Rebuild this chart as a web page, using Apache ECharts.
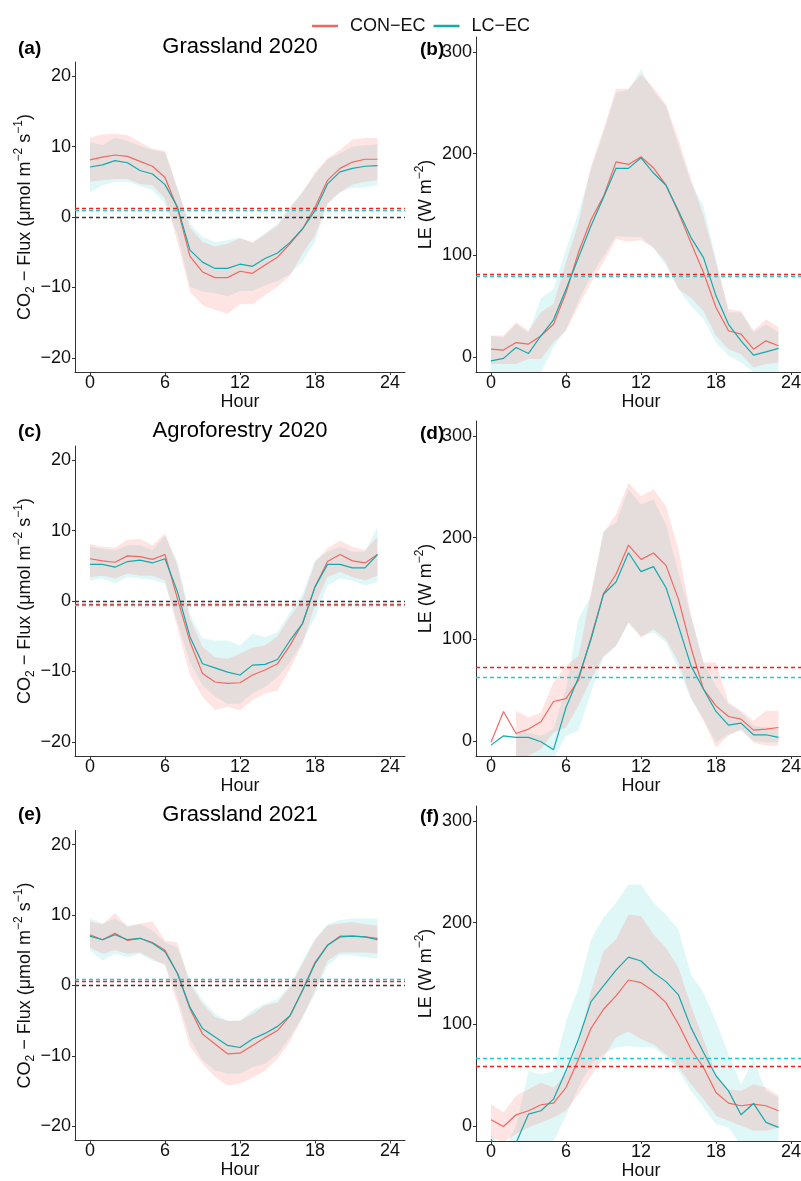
<!DOCTYPE html>
<html><head><meta charset="utf-8">
<script src="https://cdn.jsdelivr.net/npm/echarts@6/dist/echarts.min.js"></script>
<style>html,body{margin:0;padding:0;background:#fff}#c{width:801px;height:1181px}</style>
</head><body><div id="c"></div>
<script>
const hours = [0,1,2,3,4,5,6,7,8,9,10,11,12,13,14,15,16,17,18,19,20,21,22,23];
const xTicks = [0,6,12,18,24];
const co2Ticks = [-20,-10,0,10,20];
const leTicks = [0,100,200,300];
const panelTitles = ['Grassland 2020','','Agroforestry 2020','','Grassland 2021',''];
const panelLetters = ['(a)','(b)','(c)','(d)','(e)','(f)'];
const seriesNames = ['CON\u2212EC','LC\u2212EC'];

// (a) Grassland 2020 CO2
const conA    = [8.1,8.5,8.8,8.6,7.9,7.2,5.6,1.2,-5.6,-7.8,-8.6,-8.6,-7.7,-8.0,-6.8,-5.7,-3.8,-1.7,1.4,5.2,6.9,7.8,8.2,8.2];
const conA_lo = [5.0,5.2,5.4,5.4,4.7,4.5,2.6,-3.5,-10.6,-12.5,-13.2,-13.7,-12.4,-12.4,-11.1,-9.9,-8.3,-5.2,-2.6,1.9,3.5,4.6,5.0,5.2];
const conA_hi = [11.3,11.7,11.8,11.6,10.6,9.7,9.4,4.0,-1.5,-3.5,-4.2,-3.8,-3.0,-3.6,-2.5,-1.2,1.3,3.5,6.3,8.3,9.5,11.0,11.2,11.2];
const lcA     = [7.1,7.4,8.0,7.7,6.6,6.1,4.6,1.4,-4.7,-6.4,-7.3,-7.3,-6.7,-7.0,-5.9,-5.1,-3.6,-1.7,0.9,4.7,6.4,6.9,7.2,7.3];
const lcA_lo  = [3.5,4.5,5.0,5.0,4.4,3.8,1.9,-2.5,-9.9,-10.6,-10.8,-11.3,-10.5,-10.5,-9.7,-9.1,-8.1,-6.4,-3.5,1.9,3.5,4.1,4.2,4.5];
const lcA_hi  = [10.6,10.2,11.3,10.8,10.1,9.5,9.2,4.0,-1.0,-2.8,-3.6,-3.3,-2.9,-3.7,-2.3,-1.0,1.4,3.6,6.0,8.2,9.0,10.0,10.2,10.3];

// (b) Grassland 2020 LE
const conB    = [7.5,6.6,14,12.5,20.7,32,63,103,135,158,192,189.5,197,186,169,142,112,83,48.5,25.6,22.3,7.5,15.7,10.8];
const conB_lo = [-7.2,-7.2,-7.2,-2.3,-2.3,14,25.6,50,73,93,115.7,113.4,115,107.5,93,66.6,58,45,20.7,7.5,2.6,-10.5,-7.2,-5.6];
const conB_hi = [21,21,34,25.6,44,52,93,132,188,224,264,264,278,265,248.5,214,175,139,93,47,45,25.6,37,29];
const lcB     = [-4,-1.6,9.2,3.3,20.7,36.4,66.6,97.7,129,157,185.6,185.6,196,181,169,143.6,117.4,97.7,60,32,15.7,1.6,4.9,8.2];
const lcB_lo  = [-20,-20,-20,-20,-15,9.2,27,55,79.7,99,119,118,118,107.5,89.5,66.6,50,37,14,1,-5.6,-15.4,-18,-18];
const lcB_hi  = [20.7,19,32,24,58,66.6,106,142,184.6,220.7,260,263,283,261.6,247,207.5,171.5,148.5,96,43.6,43.6,24,32,24];

// (c) Agroforestry 2020 CO2
const conC    = [6.0,5.7,5.5,6.4,6.3,5.9,6.6,0.3,-5.8,-10.3,-11.5,-11.7,-11.6,-10.5,-9.8,-8.9,-6.3,-3.2,2.0,5.6,6.6,5.7,5.4,6.6];
const conC_lo = [3.4,3.6,3.2,3.9,3.6,3.6,2.9,-3.9,-10.5,-13.6,-15.5,-15.0,-15.5,-14.1,-13.1,-12.7,-9.6,-6.1,-0.6,3.4,4.1,3.4,2.9,3.6];
const conC_hi = [8.1,7.7,7.6,8.7,8.8,7.9,9.6,5.0,-2.5,-6.5,-8.0,-8.2,-7.5,-6.6,-6.3,-5.0,-2.2,0.3,5.5,7.5,8.6,7.7,7.2,9.1];
const lcC     = [5.2,5.2,4.8,5.6,5.8,5.4,6.0,1.3,-5.1,-8.9,-9.5,-10.1,-10.5,-9.1,-9.0,-8.3,-5.6,-3.2,2.0,5.2,5.2,4.7,4.7,6.6];
const lcC_lo  = [2.9,3.2,2.5,3.4,3.2,3.0,2.5,-3.0,-8.7,-12.0,-13.6,-14.6,-14.6,-13.1,-12.2,-10.8,-8.7,-5.8,-2.3,2.2,3.2,2.9,2.2,2.7];
const lcC_hi  = [7.7,7.4,7.2,7.9,7.9,7.2,9.3,5.5,-2.0,-5.3,-5.6,-5.6,-6.3,-4.6,-5.1,-4.4,-1.6,1.0,5.8,7.0,7.7,7.0,7.0,10.5];

// (d) Agroforestry 2020 LE
const conD    = [-1.6,28.9,7.2,11.5,18.7,38.7,41.6,59.7,101.6,145,164,192.8,178.7,185,172.8,139.3,91.8,50.8,34.4,23.9,21.3,10.5,11.5,13.1];
const conD_lo = [null,null,-18,-15,-8.2,8.2,13.1,34.4,60.7,83.6,93.4,116.4,101.6,109.8,100,77,42.6,19.7,-6.6,4.9,11.5,-1.6,-4.9,-4.9];
const conD_hi = [null,null,29.5,23,27.9,57.4,73.8,83.6,146,205,223,254,241,247.5,231,188.5,123,77,77,37.7,29.5,19.7,29.5,29.5];
const lcD     = [-4.3,4.9,3.3,3.3,-1,-8.9,32.8,62.3,100,144.3,156.4,185.2,166.6,171.5,150.8,113,73.8,50.8,28.9,15.4,17.4,5.9,5.9,3.3];
const lcD_lo  = [null,null,-18,-18,-18,-18,4.9,9.8,47.5,82,93.4,116.4,103.3,106.6,96.7,70.5,41,21.3,-1.6,6.6,9.8,0,-1.6,-1.6];
const lcD_hi  = [null,null,6.6,8.2,4.9,11.5,50.8,121,142.6,206.6,214.8,247.5,232.8,237.7,213,165.6,123,77,54,36,27.9,14.8,13.1,11.5];

// (e) Grassland 2021 CO2
const conE    = [7.2,6.5,7.4,6.4,6.7,6.1,5.0,1.7,-3.3,-6.9,-8.3,-9.7,-9.6,-8.5,-7.4,-6.4,-4.3,-0.7,3.3,5.7,7.0,7.0,6.9,6.7];
const conE_lo = [5.4,4.5,5.0,4.5,4.7,3.8,2.8,-2.6,-8.7,-11.1,-13.0,-14.2,-13.9,-13.1,-12.1,-10.4,-8.0,-4.5,-0.7,3.5,4.7,4.7,4.7,4.5];
const conE_hi = [9.1,8.7,10.3,8.3,8.8,9.1,6.4,6.1,0.2,-2.6,-4.5,-5.0,-5.0,-4.0,-2.8,-2.4,-0.2,3.1,6.5,8.5,8.8,9.0,8.7,8.5];
const lcE     = [7.0,6.5,7.2,6.5,6.7,6.0,4.8,1.7,-3.1,-6.1,-7.3,-8.5,-8.8,-7.6,-6.8,-5.8,-4.3,-0.7,3.1,5.7,6.9,7.0,6.9,6.5];
const lcE_lo  = [5.0,3.5,4.5,4.0,4.5,3.5,3.1,-1.7,-7.6,-10.6,-12.1,-12.5,-12.5,-11.6,-11.1,-9.7,-7.3,-4.5,-1.2,2.8,4.3,4.3,4.0,3.8];
const lcE_hi  = [9.5,8.8,9.5,8.5,8.7,7.8,6.1,5.4,0.7,-2.1,-4.0,-5.0,-5.0,-3.5,-2.6,-1.9,0.0,3.5,6.6,8.7,9.3,9.5,9.5,9.5];

// (f) Grassland 2021 LE
const conF    = [5.9,-0.7,10.8,14.8,20.7,22.3,37.7,65.6,96,114.8,127.9,143.6,141,132.8,121.3,100,75.4,57.4,32.8,22.3,19.7,21.3,19.7,14.8];
const conF_lo = [-11.5,-16,-8.2,-1.6,3.3,8.2,14.8,31,49.2,67.2,86.9,92.8,85.2,80.3,70.5,57.4,41,26.2,9.8,4.9,0,-4.9,-4.9,-1.6];
const conF_hi = [21.3,13.1,29.5,36,42.6,37.7,50.8,80.3,132.8,172,183.6,208,206.6,188.5,175.4,155.7,118,85.2,50.8,36,34.4,41,37.7,29.5];
const lcF     = [-13,-35,-17,11.5,14.8,26.2,54.1,85.2,122.3,137.7,153.4,166.2,162.3,150.8,142,128.9,96.7,72.1,49.2,34.4,10.8,22,3.3,-1.6];
const lcF_lo  = [-20,-40,-40,-30,-25,-15,9.8,37.7,60.7,70.5,77,78.7,77,77,67.2,54.1,34.4,18,1.6,-1.6,-20,-20,-20,-20];
const lcF_hi  = [-8,-25,0,54,50.8,54,103,136,183.6,205,219.7,237.7,237.7,219.7,208,193.4,149,131,103,70.5,41,64.6,34.4,27.9];

// dashed reference lines (means) per panel a..f
const meanCON = [1.2, 80.8, -0.5, 72.2, 0.6, 58.7];
const meanLC  = [1.0, 79.0, -0.6, 62.3, 0.85, 66.2];
const zeroLine = [0, null, 0, null, 0, null];

const panels = [
  [conA,conA_lo,conA_hi,lcA,lcA_lo,lcA_hi],
  [conB,conB_lo,conB_hi,lcB,lcB_lo,lcB_hi],
  [conC,conC_lo,conC_hi,lcC,lcC_lo,lcC_hi],
  [conD,conD_lo,conD_hi,lcD,lcD_lo,lcD_hi],
  [conE,conE_lo,conE_hi,lcE,lcE_lo,lcE_hi],
  [conF,conF_lo,conF_hi,lcF,lcF_lo,lcF_hi]
];

const FONT = '"Liberation Sans", Arial, Helvetica, sans-serif';
const LINE_RED = '#F2685F', LINE_TEAL = '#16A9AC';
const FILL_RED = 'rgba(248,118,109,0.2)', FILL_TEAL = 'rgba(0,191,196,0.12)';
const HL_RED = '#FF1A1A', HL_TEAL = '#1CCBCF', HL_ZERO = '#3a3a3a';

const gridBoxes = [
  {left:75, top:62, width:330, height:310},
  {left:476, top:37, width:330, height:335},
  {left:75, top:446, width:330, height:310},
  {left:476, top:421, width:330, height:335},
  {left:75, top:830.5, width:330, height:310},
  {left:476, top:806, width:330, height:335}
];

const minus = v => String(v).replace('-', '\u2212');

const grids = gridBoxes.map(g => Object.assign({containLabel:false, outerBoundsMode:'none'}, g));
const xAxes = gridBoxes.map((g,i) => ({
  type:'value', gridIndex:i, min:-1.2, max:25.2,
  name:'Hour', nameLocation:'middle', nameGap:21,
  nameTextStyle:{fontSize:18, color:'#111', fontFamily:FONT},
  axisLine:{show:true, onZero:false, lineStyle:{color:'#333', width:1}},
  axisTick:{show:true, length:3, customValues:xTicks, lineStyle:{color:'#333'}},
  axisLabel:{customValues:xTicks, fontSize:18, color:'#111', fontFamily:FONT, margin:2, formatter:minus},
  splitLine:{show:false}
}));
const yAxes = gridBoxes.map((g,i) => {
  const co2 = i % 2 === 0;
  return {
    type:'value', gridIndex:i,
    min: co2 ? -22 : -15, max: co2 ? 22 : 315,
    name: co2 ? '{n|CO}{sub|2}{n| \u2212 Flux (\u03bcmol m}{sup|\u22122}{n| s}{sup|\u22121}{n|)}' : '{n|LE (W m}{sup|\u22122}{n|)}',
    nameLocation:'middle', nameGap: co2 ? 37 : 38, nameRotate:90,
    nameTextStyle:{fontSize:18, color:'#111', fontFamily:FONT, lineHeight:24,
      rich:{
        n:{fontSize:18, color:'#111', fontFamily:FONT, lineHeight:24, verticalAlign:'middle'},
        sub:{fontSize:12, color:'#111', fontFamily:FONT, lineHeight:12, verticalAlign:'bottom'},
        sup:{fontSize:12, color:'#111', fontFamily:FONT, lineHeight:12, verticalAlign:'top'}
      }},
    axisLine:{show:true, onZero:false, lineStyle:{color:'#333', width:1}},
    axisTick:{show:true, length:3, customValues: co2 ? co2Ticks : leTicks, lineStyle:{color:'#333'}},
    axisLabel:{customValues: co2 ? co2Ticks : leTicks, fontSize:18, color:'#111', fontFamily:FONT, margin:4, formatter:minus},
    splitLine:{show:false}
  };
});

function ribbon(i, lo, hi, fill, name) {
  const data = [];
  hours.forEach((h,k) => { if (lo[k] != null && hi[k] != null) data.push([h, lo[k], hi[k]]); });
  return {
    type:'custom', name, xAxisIndex:i, yAxisIndex:i, clip:true, silent:true, animation:false,
    data, encode:{x:0, y:[1,2]},
    renderItem(params, api) {
      if (params.dataIndex !== 0) return null;
      const top = data.map(d => api.coord([d[0], d[2]]));
      const bot = data.slice().reverse().map(d => api.coord([d[0], d[1]]));
      return {type:'polygon', shape:{points: top.concat(bot)}, style:{fill: fill, stroke:null}};
    }
  };
}
function meanLine(i, vals, color, name, hl, extra) {
  const hlColor = name === seriesNames[0] ? HL_RED : HL_TEAL;
  const md = [{yAxis: hl, lineStyle:{color: hlColor, type:[4,3], width:1.3}}];
  if (extra != null) md.unshift({yAxis: extra, lineStyle:{color: HL_ZERO, type:[4,3], width:1.3}});
  return {
    type:'line', name, xAxisIndex:i, yAxisIndex:i, animation:false,
    data: hours.map((h,k) => [h, vals[k]]),
    symbol:'none', showSymbol:false, clip:true,
    lineStyle:{color, width:1.2}, itemStyle:{color},
    markLine:{silent:true, animation:false, symbol:['none','none'], label:{show:false},
      lineStyle:{color: hlColor, type:[4,3], width:1.3},
      data: md}
  };
}

const series = [];
panels.forEach((p,i) => {
  series.push(ribbon(i, p[4], p[5], FILL_TEAL, 'LC band'));
  series.push(ribbon(i, p[1], p[2], FILL_RED, 'CON band'));
});
panels.forEach((p,i) => {
  series.push(meanLine(i, p[0], LINE_RED, seriesNames[0], meanCON[i], zeroLine[i]));
  series.push(meanLine(i, p[3], LINE_TEAL, seriesNames[1], meanLC[i], null));
});

const graphics = [];
const titleY = [47, null, 431, null, 815, null];
const letterPos = [[18,49],[420,50],[18,432],[420,433.5],[18,815],[420,817]];
panelLetters.forEach((t,i) => {
  graphics.push({type:'text', x:letterPos[i][0], y:letterPos[i][1], silent:true,
    style:{text:t, font:'bold 19px ' + FONT, fill:'#000', align:'left', textAlign:'left', verticalAlign:'middle', textVerticalAlign:'middle'}});
  if (panelTitles[i]) {
    graphics.push({type:'text', x:240, y:titleY[i], silent:true,
      style:{text:panelTitles[i], font:'22px ' + FONT, fill:'#000', align:'center', textAlign:'center', verticalAlign:'middle', textVerticalAlign:'middle'}});
  }
});

const chart = echarts.init(document.getElementById('c'), null, {renderer:'canvas'});
chart.setOption({
  backgroundColor:'#fff',
  animation:false,
  textStyle:{fontFamily:FONT},
  legend:{data:seriesNames, left:307, top:12, orient:'horizontal', icon:'rect', itemWidth:26, itemHeight:2.5, itemGap:8,
    textStyle:{fontSize:18, color:'#111', fontFamily:FONT, padding:[0,0,0,7]}, selectedMode:false},
  grid: grids, xAxis: xAxes, yAxis: yAxes, series, graphic: graphics
});
</script></body></html>
